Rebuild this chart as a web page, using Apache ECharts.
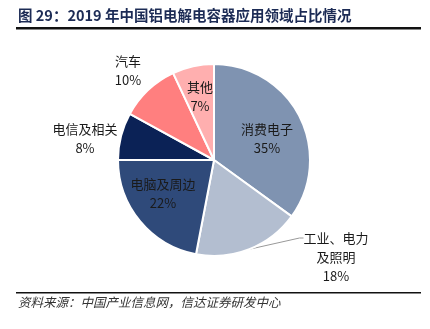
<!DOCTYPE html>
<html><head><meta charset="utf-8">
<script src="https://cdn.jsdelivr.net/npm/echarts@6/dist/echarts.min.js"></script>
<style>html,body{margin:0;padding:0;background:#fff}#c{width:430px;height:329px}</style>
</head><body><div id="c"></div>
<script>
const categories = ['消费电子', '工业、电力\n及照明', '电脑及周边', '电信及相关', '汽车', '其他'];
const values = [35, 18, 22, 8, 10, 7];
const colors = ['#7F93B1', '#B3BED0', '#2F4A7A', '#0B2256', '#FF7F7F', '#FFAFAF'];
const labelPos = ['inside', 'outside', 'inside', 'outside', 'outside', 'inside'];
const labelCenters = [[267, 139], [336, 238], [163, 194], [85, 139], [128, 71], [200, 97]];
const title = '图 29：2019 年中国铝电解电容器应用领域占比情况';
const source = '资料来源：中国产业信息网，信达证券研发中心';

const chart = echarts.init(document.getElementById('c'));
chart.setOption({
  animation: false,
  graphic: [
    { type: 'text', left: 18, top: 8, style: { text: title, font: 'bold 14.5px "Noto Sans CJK SC", sans-serif', fill: '#1C2B55' } },
    { type: 'rect', shape: { x: 16, y: 27, width: 405, height: 2.5 }, style: { fill: '#111' } },
    { type: 'rect', shape: { x: 16, y: 292, width: 405, height: 1.5 }, style: { fill: '#111' } },
    { type: 'text', left: 18, top: 296, style: { text: source, font: 'italic 12.5px "Noto Sans CJK SC", sans-serif', fill: '#333' } }
  ],
  series: [{
    type: 'pie',
    center: [214, 160],
    radius: [0, 96],
    startAngle: 90,
    clockwise: true,
    itemStyle: { borderColor: '#fff', borderWidth: 2 },
    label: { fontSize: 13, color: '#1a1a1a', lineHeight: 19, fontFamily: '"Noto Sans CJK SC", sans-serif', overflow: 'none' },
    labelLayout: function (p) {
      const c = labelCenters[p.dataIndex];
      return { x: c[0], y: c[1], align: 'center', verticalAlign: 'middle' };
    },
    data: categories.map((n, i) => ({
      name: n,
      value: values[i],
      itemStyle: { color: colors[i] },
      label: {
        position: labelPos[i],
        formatter: i === 1 ? '\n\n{b}\n{c}%' : '{b}\n{c}%',
        align: 'center'
      },
      labelLine: { show: i === 1, length: 4, length2: 4, lineStyle: { color: '#999', width: 1 } }
    }))
  }]
});
</script></body></html>
